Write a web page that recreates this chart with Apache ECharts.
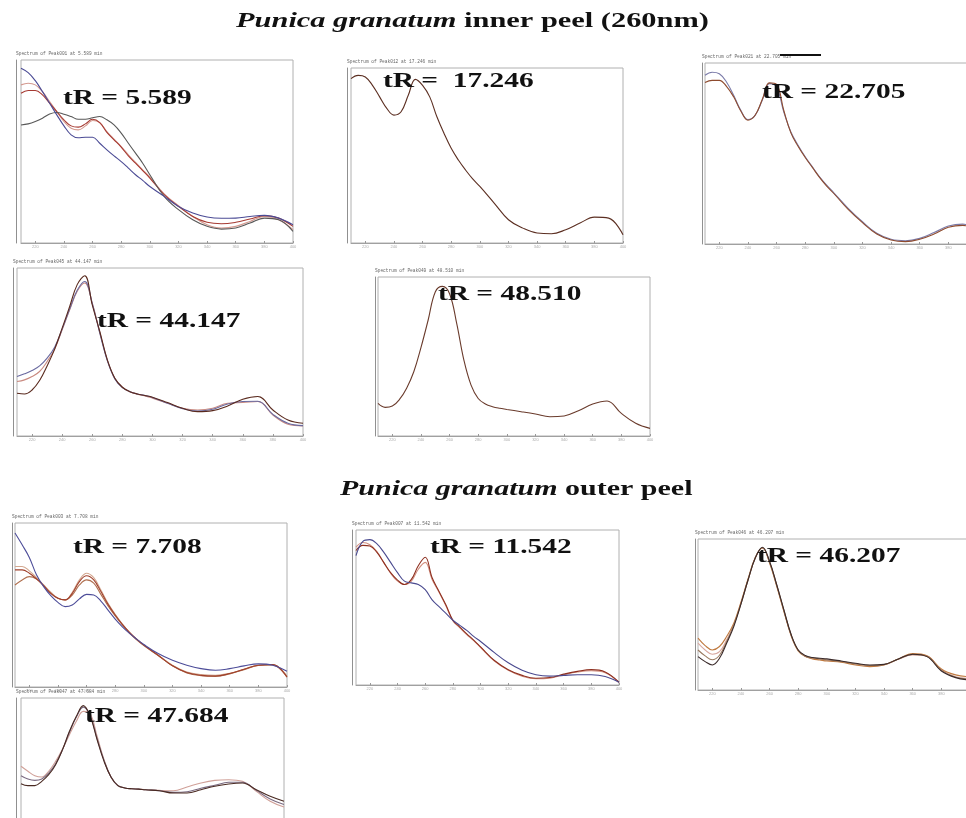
<!DOCTYPE html>
<html>
<head>
<meta charset="utf-8">
<script src="https://cdn.jsdelivr.net/npm/echarts@6/dist/echarts.min.js"></script>
<style>html,body{margin:0;padding:0;background:#fff}#c{width:966px;height:818px}</style>
</head>
<body>
<div id="c"></div>
<script>
// wavelength grid (nm) shared by all spectra
const wavelengths = [210,215,220,225,230,235,240,245,250,255,260,265,270,275,280,285,290,295,300,310,320,330,340,350,360,370,380,390,400];
const tickWavelengths = [220,240,260,280,300,320,340,360,380,400];

// relative absorbance (% of panel height)
// inner peel, tR = 5.589
const p1Pink = [86.4,87.3,86.4,82.7,77.3,71.8,66.4,62.7,61.8,64,66.9,65.8,60.9,56.7,52.7,48.2,44,40,36,26.9,20.4,14.5,10,8.2,9.1,11.8,14.5,12.7,7.3];
const p1Red  = [81.8,83.3,83.3,80.9,76.4,71.8,67.3,64,63.3,65.1,67.6,65.8,60.4,56.4,52.4,47.6,43.6,39.6,35.5,26.4,20,14.5,11.3,10.5,11.3,13.1,14.9,13.6,9.1];
const p1Dark = [64.5,65.1,66.4,68.2,70.5,71.3,70.4,69.1,67.6,67.6,68.4,69.1,67.3,64.5,60,54.5,49.1,43.6,37.3,25.5,18.2,12.7,9.1,7.6,8.2,10.9,13.6,12.7,6.4];
const p1Blue = [95.5,93.1,88.7,82.7,76.4,70,64,59.1,57.5,57.8,57.8,54.5,50.9,47.6,44.5,40.9,37.3,34.2,30.9,25.5,20,16.4,14.2,13.5,13.6,14.5,15.1,13.6,10];
// inner peel, tR = 17.246
const p2Line = [93.9,95.8,94.9,90.1,83.5,76.9,73.1,75,84.4,93.5,90.1,83.5,72.1,62.6,54.1,47.4,41.7,36.6,32.3,22.8,13.3,8.5,5.7,5.3,7.6,11.4,14.8,14.2,4.7];
// inner peel, tR = 22.705
const p3Blue  = [93.2,94.9,94.1,89.5,82.2,73.9,68.8,71.1,79.4,88.6,86.8,73,61.9,54.6,48.2,42.6,37.1,32.5,28.3,19.7,12.3,5.9,2.6,1.8,3.1,6.3,9.9,11,7.7];
const p3Brown = [89.2,90.4,90.4,87.1,81.3,73.5,68.4,71.1,79.8,89,88.2,73.9,61.4,54,47.8,42.3,36.8,32,27.9,19.1,11.8,5.5,2.2,1.3,2.6,5.5,9.2,10.3,6.8];
// inner peel, tR = 44.147
const p4Pink = [32.4,33.4,35.4,38.4,44.3,51.7,63.2,75.1,86.1,91.1,79,61.6,45.3,34.2,29,26.4,24.9,23.9,22.5,19.5,16.5,15.5,16.5,19.5,19.9,20.5,12.5,7,6];
const p4Blue = [35.4,37,39,41.7,46.3,52.9,63.6,75.5,86.7,92,79,61.2,44.9,34,28.8,26.4,25,24.1,22.9,19.5,16.3,14.9,15.9,19.1,20.5,20.7,12.9,7.6,6.2];
const p4Dark = [25.4,25,27.4,33,41.7,51.7,64.2,77.1,90.1,95.4,78,62.2,45.3,34.4,29,26.4,25,24.1,23.1,19.9,16.5,14.5,15.1,17.9,21.9,23.5,15.5,9.5,7.6];
// inner peel, tR = 48.510
const p5Line = [20.5,18,18.8,23,30.1,40.4,55.6,72.8,90.6,94.1,89.5,70.7,47.7,32,23.6,20.1,18.4,17.4,16.7,15.3,13.8,12.1,12.6,15.9,20.1,22,14.2,8,4.8];
// outer peel, tR = 7.708
const p6Tan   = [73.5,73.5,70.8,66.7,62.2,57.8,54.1,53.1,57.8,65.3,69.4,66.7,59.2,51,44.3,38.4,33.3,29,25.5,19.4,13.3,9.2,7.6,7.1,8.4,10.8,13.3,13.7,6.7];
const p6Brown = [62.2,65.3,67.3,65.9,61.8,57.1,54.1,53.1,56.1,62.2,65.3,63.3,56.5,49.4,43.3,37.8,32.9,28.8,25.3,19.2,12.9,8.6,6.9,6.5,8,10.6,13.1,13.5,5.9];
const p6Red   = [71.4,71.4,69.4,65.9,61.8,57.1,54.1,53.1,57.1,64.3,67.8,65.3,58.2,50.4,43.9,38.2,33.3,29.2,25.5,19.4,12.9,8.8,7.1,6.7,8.2,10.8,13.3,13.7,6.1];
const p6Blue  = [93.9,86.7,79,68.4,61.2,55.7,51.6,49,50,53.7,56.5,56.1,52.4,46.9,41.4,36.7,32.7,29.2,25.9,20.4,16.3,13.3,11.2,10.2,11.2,12.9,14.1,13.3,9.6];
// outer peel, tR = 11.542
const p7Pink = [89,91.9,90.5,86.2,79.1,72.1,67,64.8,67,74.7,79.1,68.1,59.8,51,41.3,36.9,32.5,28.6,24.2,15.4,9.5,5.7,4,4.4,6.6,8.4,9.2,7.9,1.5];
const p7Red  = [86.8,90.1,89.7,85.7,79.1,72.5,67.7,64.8,68.1,76.9,82.4,69.2,60.4,51.6,41.8,37.4,33,29,24.6,15.8,9.9,6.2,4.4,4.8,7,8.8,9.9,8.4,1.8];
const p7Blue = [83.5,92.7,93.8,91.2,85.7,79.1,72.5,67,65.9,64.8,61.5,54.9,50.5,46.2,41.8,38.5,35.2,31.4,28.1,20.9,14.3,9.5,6.6,5.7,6.2,6.6,6.6,5.5,1.8];
// outer peel, tR = 46.207
const p8Orange = [34.3,29.4,26.5,28.8,35.4,44.2,58.2,73.7,87.8,94,84.1,68.6,52,36.1,25.9,22.1,20.6,19.9,19.2,18.4,16.6,15.5,16.6,20.6,24.1,22.6,13.9,10,8.8];
const p8Pink   = [31,26.5,23.7,25.4,33.2,43.1,57.5,73,87.4,94,84.7,69.2,52.4,36.5,26.3,22.3,21,20.4,19.7,18.8,17.3,16.2,16.8,20.4,23.2,22.3,13.3,8.8,7.7];
const p8Tan    = [26.5,22.6,20,23,32,43,57,73,87.5,94.2,84.8,69.5,52.8,36.6,26.2,22.4,21.2,20.6,19.9,18.9,17.3,16.2,16.9,20.5,23.5,22.2,13,8.5,7.2];
const p8Dark   = [22.1,18.8,16.6,21,31,42,56.9,73,87.4,94.5,85.2,69.7,53.1,36.9,26.5,22.8,21.5,21,20.6,19.2,17.7,16.6,17,20.6,23.7,22.1,12.6,8.2,6.6];
// outer peel, tR = 47.684
const p9Pink = [58.6,55.6,52.9,52.1,55.6,61.6,69.1,77.8,85.9,91.9,90.5,76.8,62.6,52.1,46.9,45.5,45,44.8,44.4,44,43.8,46.1,48.5,50.1,50.5,49.5,43.4,37.4,33.9];
const p9Gray = [52.9,50.9,50.1,50.9,54.5,60.2,68.7,79.2,88.5,94.5,89.3,75.2,62.2,52.1,46.9,45.5,45,44.8,44.4,43.8,42.8,43.2,45.3,47.1,48.9,48.9,44,38.8,35.4];
const p9Dark = [48.1,46.9,46.9,49.5,53.5,59.6,68.7,79.8,88.9,95.4,88.9,74.7,61.6,52.1,46.9,45.5,45,44.8,44.4,43.8,42.4,42.4,44.4,46.5,47.9,48.5,44.4,40.4,37.4];

const retentionLabels = ['tR = 5.589','tR =  17.246','tR = 22.705','tR = 44.147','tR = 48.510','tR = 7.708','tR = 11.542','tR = 46.207','tR = 47.684'];
const headerLabels = ['Spectrum of Peak001 at 5.589 min','Spectrum of Peak012 at 17.246 min','Spectrum of Peak021 at 22.705 min','Spectrum of Peak045 at 44.147 min','Spectrum of Peak049 at 48.510 min','Spectrum of Peak003 at 7.708 min','Spectrum of Peak007 at 11.542 min','Spectrum of Peak046 at 46.207 min','Spectrum of Peak047 at 47.684 min'];

// ----- layout & styles -----
const panels = [
  {g:{left:21,top:60,width:272,height:183}, lab:[63,99], off:5,
   s:[[p1Pink,'#d49a90'],[p1Red,'#a63a32'],[p1Dark,'#585858'],[p1Blue,'#4b4b95']]},
  {g:{left:351,top:68,width:272,height:175}, lab:[383,81.5], off:4,
   s:[[p2Line,'#5c2f22']]},
  {g:{left:705,top:63,width:272,height:181}, lab:[762,93], off:3,
   s:[[p3Blue,'#7a7aa8'],[p3Brown,'#8e4b2e']]},
  {g:{left:17,top:268,width:286,height:168}, lab:[97,321.5], off:4,
   s:[[p4Pink,'#c98a80'],[p4Blue,'#6a6aa0'],[p4Dark,'#5a2a1e']]},
  {g:{left:378,top:277,width:272,height:159}, lab:[438,295], off:3,
   s:[[p5Line,'#6a3b2c']]},
  {g:{left:15,top:523,width:272,height:164}, lab:[73,548], off:3,
   s:[[p6Tan,'#d3a890'],[p6Brown,'#b07050'],[p6Red,'#a0402c'],[p6Blue,'#4d4d99']]},
  {g:{left:356,top:530,width:263,height:155}, lab:[430,548], off:4,
   s:[[p7Pink,'#d39080'],[p7Red,'#8e3020'],[p7Blue,'#4a4a8f']]},
  {g:{left:698,top:539,width:272,height:151}, lab:[757,557], off:3,
   s:[[p8Pink,'#d8a8a0'],[p8Orange,'#c07a40'],[p8Tan,'#9a7a60'],[p8Dark,'#3a2a2a']]},
  {g:{left:21,top:698,width:263,height:165}, lab:[85,716.5], off:5,
   s:[[p9Pink,'#d0a098'],[p9Gray,'#7a6a80'],[p9Dark,'#4a2a22']]}
];

const grid=[], xAxis=[], yAxis=[], series=[], graphic=[];
panels.forEach((p,i)=>{
  grid.push(Object.assign({show:true,borderColor:'#b0b0b0',borderWidth:1,backgroundColor:'transparent',
    containLabel:false,outerBoundsMode:'none'},p.g));
  xAxis.push({type:'value',gridIndex:i,min:210,max:400,
    axisLine:{show:true,onZero:false,lineStyle:{color:'#a0a0a0',width:1}},
    axisTick:{show:true,inside:true,length:2,customValues:tickWavelengths,lineStyle:{color:'#999'}},
    axisLabel:{show:true,fontSize:4,color:'#aaa',margin:2,customValues:tickWavelengths},
    splitLine:{show:false}});
  yAxis.push({type:'value',gridIndex:i,min:0,max:100,offset:p.off,
    axisLine:{show:true,lineStyle:{color:'#909090',width:1}},
    axisTick:{show:false},axisLabel:{show:false},splitLine:{show:false}});
  p.s.forEach(([arr,col])=>{
    series.push({type:'line',xAxisIndex:i,yAxisIndex:i,smooth:0.4,symbol:'none',
      lineStyle:{color:col,width:1.1},z:3,
      data:wavelengths.map((w,k)=>[w,arr[k]])});
  });
  graphic.push({type:'text',x:p.g.left-p.off,y:p.g.top-4,z:10,
    style:{text:headerLabels[i],fontSize:4.5,fontFamily:'Liberation Mono',fill:'#666',verticalAlign:'bottom'}});
  graphic.push({type:'text',x:p.lab[0],y:p.lab[1],scaleX:1.4,z:10,
    style:{text:retentionLabels[i],fontFamily:'Liberation Serif',fontWeight:'bold',fontSize:21,fill:'#111',verticalAlign:'middle'}});
});

const titleRich = {i:{fontFamily:'Liberation Serif',fontStyle:'italic',fontWeight:'bold',fontSize:20,fill:'#111'},
                   b:{fontFamily:'Liberation Serif',fontWeight:'bold',fontSize:20,fill:'#111'}};
graphic.push({type:'text',x:236,y:21.5,scaleX:1.52,z:10,
  style:{text:'{i|Punica granatum}{b| inner peel (260nm)}',rich:titleRich,verticalAlign:'middle'}});
graphic.push({type:'text',x:340,y:490,scaleX:1.5,z:10,
  style:{text:'{i|Punica granatum}{b| outer peel}',rich:titleRich,verticalAlign:'middle'}});
graphic.push({type:'line',z:10,shape:{x1:780,y1:55,x2:821,y2:55},style:{stroke:'#111',lineWidth:2}});

const chart = echarts.init(document.getElementById('c'),null,{renderer:'canvas'});
chart.setOption({backgroundColor:'#fff',animation:false,grid,xAxis,yAxis,series,graphic});
</script>
</body>
</html>
